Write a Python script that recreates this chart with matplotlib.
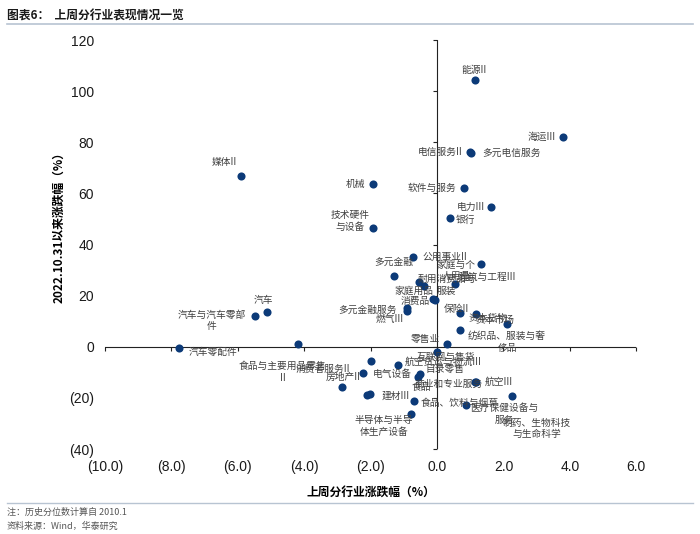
import matplotlib
matplotlib.use("Agg")
import matplotlib.pyplot as plt
from matplotlib.ticker import FuncFormatter

plt.rcParams['font.family'] = ['Noto Sans CJK SC', 'DejaVu Sans']

# 行业名称 / 上周涨跌幅 / 2022.10.31以来涨跌幅
names = ['能源II', '海运III', '电信服务II', '多元电信服务', '媒体II', '机械',
         '软件与服务', '电力III', '银行', '技术硬件\n与设备', '多元金融', '公用事业II',
         '家庭与个\n人用品', '建筑与工程III', '耐用消费品与\n服装', '家庭用品', '消费品',
         '保险II', '多元金融服务', '燃气III', '资本货物', '资本市场', '纺织品、服装与奢\n侈品',
         '', '零售业', '互联网与售货\n目录零售', '航空货运与物流III', '电气设备', '食品',
         '商业和专业服务', '航空III', '医疗保健设备与\n服务', '制药、生物科技\n与生命科学',
         '食品、饮料与烟草', '半导体与半导\n体生产设备', '建材III', '', '房地产II',
         '消费者服务II', '食品与主要用品零售\nII', '', '汽车', '汽车与汽车零部\n件', '汽车零配件']
week_chg = [1.14, 3.80, 0.99, 1.01, -5.90, -1.93,
            0.81, 1.63, 0.39, -1.93, -1.29, -0.72,
            1.33, 0.54, -0.38, -0.55, -0.11,
            -0.05, -0.92, -0.92, 0.70, 1.16, 2.11,
            0.68, 0.31, 0.01, -1.18, -0.51, -0.56,
            1.14, 1.16, 0.87, 2.26,
            -0.68, -0.78, -2.02, -2.12, -2.22,
            -2.00, -4.20, -2.87, -5.11, -5.49, -7.77]
since_chg = [104.3, 82.0, 76.2, 76.0, 66.8, 63.7,
             62.1, 54.7, 50.4, 46.5, 27.9, 35.2,
             32.3, 24.7, 23.8, 25.5, 18.6,
             18.3, 15.1, 14.1, 13.2, 12.9, 9.0,
             6.6, 1.0, -2.1, -7.3, -10.5, -11.8,
             -13.8, -13.6, -22.7, -19.4,
             -21.0, -26.2, -18.4, -18.9, -10.3,
             -5.7, 1.2, -15.6, 13.8, 12.2, -0.5]

xticks = [-10, -8, -6, -4, -2, 0, 2, 4, 6]
yticks = [-40, -20, 0, 20, 40, 60, 80, 100, 120]

# label placement (pixel offset from the dot, horizontal alignment)
label_pos = [(-1, 10, 'center'), (-8, 0, 'right'), (-7, 0, 'right'), (12, 0, 'left'),
             (-4, 14, 'right'), (-8, 0, 'right'), (-8, 0, 'right'), (-6, 0, 'right'),
             (6, -2, 'left'), (-3, 7, 'right'), (0, 14, 'center'), (9, 0, 'left'),
             (-6, -6, 'right'), (4, 7, 'left'), (22, 1, 'center'), (-5, -9, 'center'),
             (-4, -2, 'right'), (8, -9, 'left'), (-10, -2, 'right'), (-3, -8, 'right'),
             (8, -5, 'left'), (0, -6, 'left'), (0, -18, 'center'), (0, 0, 'left'),
             (-7, 5, 'right'), (8, -11, 'center'), (7, 4, 'left'), (-8, 0, 'right'),
             (3, -10, 'center'), (8, -2, 'right'), (9, 0, 'left'), (38, -9, 'center'),
             (25, -32, 'center'), (6, -2, 'left'), (-27, -12, 'center'), (12, -2, 'left'),
             (0, 0, 'left'), (-3, -4, 'right'), (-20, -7, 'right'), (-15, -28, 'center'),
             (0, 0, 'left'), (-4, 12, 'center'), (-43, -5, 'center'), (10, -4, 'left')]

dot_color = '#0c3a78'
text_color = '#404040'

fig = plt.figure(figsize=(7.0, 5.34), dpi=100)
ax = fig.add_axes([0.15, 0.159, 0.759, 0.766])

ax.scatter(week_chg, since_chg, s=34, color=dot_color, zorder=3, linewidths=0)

for name, xv, yv, (dx, dy, ha) in zip(names, week_chg, since_chg, label_pos):
    if not name:
        continue
    ax.annotate(name, (xv, yv), xytext=(dx * 0.72, dy * 0.72), textcoords='offset points',
                ha=ha, va='center', fontsize=7, color=text_color, multialignment='center',
                zorder=4)

ax.set_xlim(-10, 6)
ax.set_ylim(-40, 120)
ax.set_xticks(xticks)
ax.set_yticks(yticks)

def fmt_x(v, pos):
    return f'({abs(v):.1f})' if v < 0 else f'{v:.1f}'

def fmt_y(v, pos):
    return f'({abs(v):.0f})' if v < 0 else f'{v:.0f}'

ax.xaxis.set_major_formatter(FuncFormatter(fmt_x))
ax.yaxis.set_major_formatter(FuncFormatter(fmt_y))
ax.tick_params(length=0, labelsize=10, pad=8, labelcolor='#1a1a1a')
for lab in ax.get_xticklabels() + ax.get_yticklabels():
    lab.set_fontfamily(['Liberation Sans', 'DejaVu Sans'])
for s in ax.spines.values():
    s.set_visible(False)

# axis lines through zero with small tick marks
ax.axhline(0, color='#222222', lw=0.8, zorder=2)
ax.axvline(0, color='#222222', lw=0.8, zorder=2)
ax.plot(xticks, [0] * len(xticks), linestyle='none', marker=3, markersize=3,
        color='#222222', mew=0.8, clip_on=False)
ax.plot([0] * len(yticks), yticks, linestyle='none', marker=0, markersize=3,
        color='#222222', mew=0.8, clip_on=False)

ax.set_xlabel('上周分行业涨跌幅（%）', fontsize=8.5, fontweight='bold')
ax.set_ylabel('2022.10.31以来涨跌幅（%）', fontsize=8.5, fontweight='bold')
ax.xaxis.set_label_coords(0.5, -0.09)
ax.yaxis.set_label_coords(-0.075, 0.55)

# title and footer
fig.text(0.01, 0.982, '图表6：  上周分行业表现情况一览', fontsize=8.5, fontweight='bold',
         color='#1a1a1a', va='top')
fig.add_artist(plt.Line2D([0.01, 0.99], [0.955, 0.955], color='#b8c4d2', lw=1.2))
fig.add_artist(plt.Line2D([0.01, 0.99], [0.058, 0.058], color='#b8c4d2', lw=1.0))
fig.text(0.01, 0.040, '注：历史分位数计算自 2010.1', fontsize=6.5, color='#555555', va='center')
fig.text(0.01, 0.014, '资料来源：Wind，华泰研究', fontsize=6.5, color='#555555', va='center')

fig.savefig('out.png', dpi=100)
